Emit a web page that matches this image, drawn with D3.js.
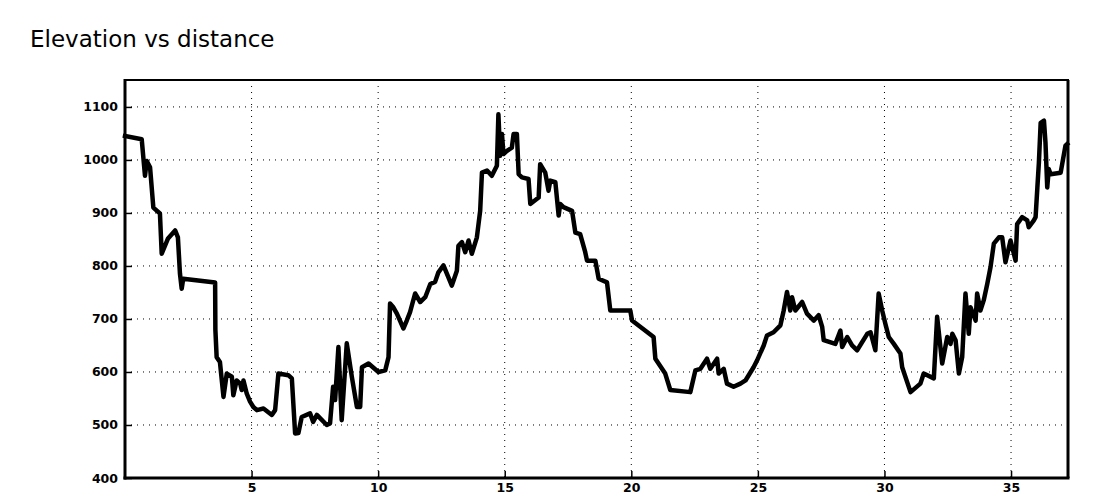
<!DOCTYPE html>
<html>
<head>
<meta charset="utf-8">
<script src="https://cdn.jsdelivr.net/npm/d3@7"></script>
<style>
  html, body { margin: 0; padding: 0; background: #fff; }
  svg { display: block; }
</style>
</head>
<body>
<svg id="chart" width="1100" height="500"></svg>
<script>
const title = "Elevation vs distance";

const distanceKm = [
  0, 0.66, 0.79, 0.86, 0.99, 1.12, 1.38, 1.45, 1.70, 1.98, 2.09, 2.17, 2.24, 2.30, 3.56, 3.57, 3.62, 3.75, 3.89, 4.02,
  4.22, 4.28, 4.41, 4.55, 4.61, 4.68, 4.81, 4.94, 5.07, 5.21, 5.47, 5.80, 5.93, 6.06, 6.45, 6.59, 6.72, 6.85, 6.98, 7.31,
  7.43, 7.58, 7.97, 8.10, 8.22, 8.30, 8.43, 8.56, 8.76, 8.96, 9.16, 9.29, 9.36, 9.62, 10.01, 10.28, 10.41, 10.47, 10.60, 10.74,
  11.00, 11.13, 11.26, 11.46, 11.66, 11.86, 12.06, 12.25, 12.38, 12.58, 12.91, 13.11, 13.17, 13.31, 13.44, 13.57, 13.70, 13.90, 14.03, 14.10,
  14.30, 14.49, 14.69, 14.75, 14.82, 14.89, 14.95, 15.09, 15.28, 15.35, 15.48, 15.55, 15.68, 15.94, 16.01, 16.34, 16.40, 16.60, 16.73, 16.80,
  17.00, 17.13, 17.19, 17.32, 17.66, 17.79, 17.98, 18.18, 18.25, 18.58, 18.71, 19.04, 19.17, 19.96, 20.03, 20.88, 20.95, 21.34, 21.54, 22.33,
  22.53, 22.73, 22.99, 23.12, 23.39, 23.45, 23.65, 23.78, 24.04, 24.31, 24.51, 24.83, 24.97, 25.23, 25.36, 25.62, 25.89, 26.02, 26.15, 26.28,
  26.35, 26.48, 26.75, 26.94, 27.21, 27.40, 27.54, 27.60, 28.06, 28.26, 28.33, 28.53, 28.72, 28.92, 29.32, 29.45, 29.64, 29.77, 29.91, 30.04,
  30.17, 30.37, 30.63, 30.70, 31.03, 31.42, 31.55, 31.95, 32.08, 32.28, 32.48, 32.61, 32.68, 32.81, 32.94, 33.07, 33.20, 33.33, 33.40, 33.60,
  33.66, 33.79, 33.92, 34.06, 34.19, 34.32, 34.52, 34.65, 34.78, 34.98, 35.18, 35.24, 35.44, 35.64, 35.70, 35.90, 35.97, 36.04, 36.10, 36.17,
  36.30, 36.36, 36.43, 36.49, 36.56, 36.96, 37.02, 37.15, 37.22
];

const elevationM = [
  1045, 1039, 970, 998, 986, 910, 899, 823, 852, 867, 854, 786, 757, 776, 769, 680, 628, 619, 553, 597,
  591, 556, 584, 578, 566, 584, 559, 544, 534, 528, 531, 519, 528, 597, 594, 588, 484, 485, 515, 522,
  506, 519, 500, 503, 572, 547, 647, 509, 654, 591, 534, 534, 609, 616, 600, 603, 628, 729, 722, 710,
  682, 697, 713, 748, 732, 741, 766, 770, 788, 801, 763, 791, 838, 845, 826, 848, 823, 854, 904, 976,
  980, 970, 989, 1086, 1008, 1049, 1011, 1017, 1023, 1049, 1049, 973, 967, 964, 917, 929, 992, 976, 942, 961,
  958, 895, 917, 911, 904, 863, 860, 826, 810, 810, 776, 769, 716, 716, 697, 666, 625, 597, 566, 562,
  603, 606, 625, 606, 625, 597, 606, 578, 572, 578, 584, 609, 622, 650, 669, 675, 688, 716, 751, 716,
  741, 716, 732, 710, 697, 707, 685, 660, 653, 678, 647, 666, 650, 641, 672, 675, 641, 748, 716, 690,
  666, 653, 635, 609, 562, 578, 597, 588, 704, 616, 666, 653, 672, 660, 597, 628, 748, 672, 722, 697,
  748, 716, 735, 766, 798, 842, 854, 854, 807, 848, 810, 879, 892, 886, 873, 886, 892, 948, 995, 1070,
  1074, 1033, 948, 983, 973, 976, 992, 1027, 1030
];

const xTicks = [5, 10, 15, 20, 25, 30, 35];
const yTicks = [400, 500, 600, 700, 800, 900, 1000, 1100];

const svg = d3.select("#chart");
const plotLeft = 125, plotRight = 1068, plotTop = 80, plotBottom = 478;

const x = d3.scaleLinear().domain([0, 37.25]).range([plotLeft, plotRight]);
const y = d3.scaleLinear().domain([400, 1150.8]).range([plotBottom, plotTop]);

svg.append("text")
  .attr("x", 30).attr("y", 47)
  .attr("font-family", "DejaVu Sans")
  .attr("font-size", 23)
  .attr("fill", "#000")
  .text(title);

// grid
const grid = svg.append("g");
grid.selectAll("line.v").data(xTicks).join("line")
  .attr("class", "v")
  .attr("x1", d => x(d)).attr("x2", d => x(d))
  .attr("y1", plotTop).attr("y2", plotBottom)
  .attr("stroke", "#000").attr("stroke-width", 1)
  .attr("stroke-dasharray", "1,5");
grid.selectAll("line.h").data(yTicks.filter(d => d > 400)).join("line")
  .attr("class", "h")
  .attr("x1", plotLeft).attr("x2", plotRight)
  .attr("y1", d => y(d)).attr("y2", d => y(d))
  .attr("stroke", "#000").attr("stroke-width", 1)
  .attr("stroke-dasharray", "1,5");

// line
const line = d3.line()
  .x((d, i) => x(distanceKm[i]))
  .y(d => y(d));
svg.append("path")
  .datum(elevationM)
  .attr("d", line)
  .attr("fill", "none")
  .attr("stroke", "#000")
  .attr("stroke-width", 4.5)
  .attr("stroke-linejoin", "round")
  .attr("stroke-linecap", "square");

// frame
svg.append("line").attr("x1", plotLeft).attr("x2", plotRight + 1).attr("y1", plotTop).attr("y2", plotTop)
  .attr("stroke", "#000").attr("stroke-width", 2);
svg.append("line").attr("x1", plotRight).attr("x2", plotRight).attr("y1", plotTop).attr("y2", plotBottom)
  .attr("stroke", "#000").attr("stroke-width", 3);

// axes
const xAxis = d3.axisBottom(x).tickValues(xTicks).tickSize(-7).tickPadding(5).tickFormat(d3.format("d"));
const gx = svg.append("g").attr("transform", `translate(0,${plotBottom})`).call(xAxis);
gx.select(".domain").remove();
gx.selectAll(".tick line").attr("stroke", "#000").attr("stroke-width", 1.5);
gx.selectAll("text").attr("font-family", "DejaVu Sans").attr("font-weight", "bold")
  .attr("font-size", 12.5).attr("fill", "#000");

const yAxis = d3.axisLeft(y).tickValues(yTicks).tickSize(-7).tickPadding(7).tickFormat(d3.format("d"));
const gy = svg.append("g").attr("transform", `translate(${plotLeft},0)`).call(yAxis);
gy.select(".domain").remove();
gy.selectAll(".tick line").attr("stroke", "#000").attr("stroke-width", 1.5);
gy.selectAll("text").attr("font-family", "DejaVu Sans").attr("font-weight", "bold")
  .attr("font-size", 12.5).attr("fill", "#000");

svg.append("line").attr("x1", plotLeft).attr("x2", plotLeft).attr("y1", plotTop - 1).attr("y2", plotBottom + 1.5)
  .attr("stroke", "#000").attr("stroke-width", 3);
svg.append("line").attr("x1", plotLeft - 1.5).attr("x2", plotRight + 1.5).attr("y1", plotBottom).attr("y2", plotBottom)
  .attr("stroke", "#000").attr("stroke-width", 3);
</script>
</body>
</html>
